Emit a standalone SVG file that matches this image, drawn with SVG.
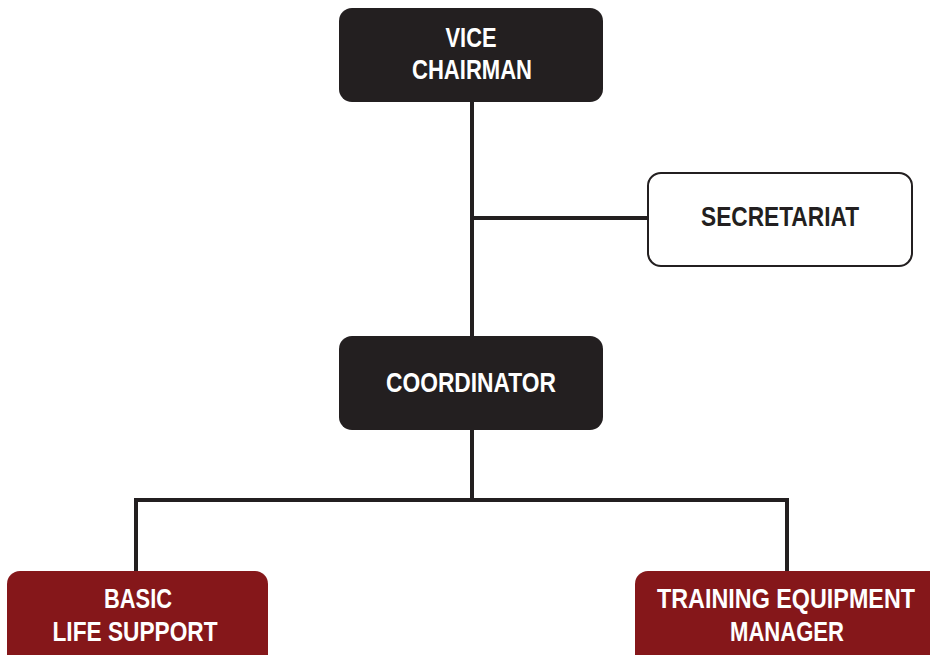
<svg xmlns="http://www.w3.org/2000/svg" width="930" height="655" viewBox="0 0 930 655">
  <style>
    .dark { fill: #231f20; }
    .red { fill: #85171a; }
    .white { fill: #ffffff; stroke: #231f20; stroke-width: 2; }
    .link { fill: none; stroke: #231f20; stroke-width: 4; }
    text { font-family: "Liberation Sans", Arial, sans-serif; font-weight: bold; font-size: 28px; text-anchor: middle; }
    .lt { fill: #ffffff; }
    .dt { fill: #231f20; }
  </style>
  <rect width="930" height="655" fill="#ffffff"/>
  <g id="connectors">
    <path class="link" d="M472 100 V338"/>
    <path class="link" d="M472 218 H648"/>
    <path class="link" d="M472 428 V500"/>
    <path class="link" d="M136 572 V500 H787 V572"/>
  </g>
  <g id="vice-chairman">
    <rect class="dark" x="339" y="8" width="264" height="94" rx="13"/>
    <text class="lt" x="471" y="47" textLength="51" lengthAdjust="spacingAndGlyphs">VICE</text>
    <text class="lt" x="472" y="79" textLength="120" lengthAdjust="spacingAndGlyphs">CHAIRMAN</text>
  </g>
  <g id="secretariat">
    <rect class="white" x="648" y="173" width="264" height="93" rx="13"/>
    <text class="dt" x="780" y="226" textLength="158" lengthAdjust="spacingAndGlyphs">SECRETARIAT</text>
  </g>
  <g id="coordinator">
    <rect class="dark" x="339" y="336" width="264" height="94" rx="13"/>
    <text class="lt" x="471" y="392" textLength="170" lengthAdjust="spacingAndGlyphs">COORDINATOR</text>
  </g>
  <g id="basic-life-support">
    <rect class="red" x="7" y="571" width="261" height="100" rx="13"/>
    <text class="lt" x="138" y="608" textLength="68" lengthAdjust="spacingAndGlyphs">BASIC</text>
    <text class="lt" x="135" y="641" textLength="165" lengthAdjust="spacingAndGlyphs">LIFE SUPPORT</text>
  </g>
  <g id="training-equipment-manager">
    <rect class="red" x="635" y="571" width="310" height="100" rx="13"/>
    <text class="lt" x="786" y="608" textLength="258" lengthAdjust="spacingAndGlyphs">TRAINING EQUIPMENT</text>
    <text class="lt" x="787" y="641" textLength="114" lengthAdjust="spacingAndGlyphs">MANAGER</text>
  </g>
</svg>
